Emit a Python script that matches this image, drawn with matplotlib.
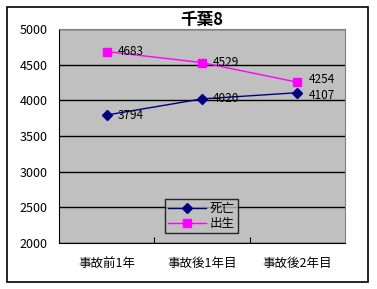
import matplotlib
matplotlib.use("Agg")
import matplotlib.pyplot as plt
from matplotlib.patches import Rectangle

plt.rcParams["font.family"] = ["Noto Sans CJK JP", "DejaVu Sans"]

categories = ["事故前1年", "事故後1年目", "事故後2年目"]
deaths = [3794, 4020, 4107]
births = [4683, 4529, 4254]
title = "千葉8"

W, H = 377, 289
fig = plt.figure(figsize=(W / 100, H / 100), dpi=100)
fig.patches.append(Rectangle((7 / W, 7 / H), 361 / W, 275 / H, transform=fig.transFigure,
                             fill=False, edgecolor="black", linewidth=1.2))

ax = fig.add_axes([59 / W, 1 - 243 / H, 286 / W, 214 / H])
ax.set_facecolor("#C0C0C0")
x = [0, 1, 2]
ax.plot(x, deaths, color="#000080", marker="D", markersize=5, linewidth=1, label="死亡")
ax.plot(x, births, color="#FF00FF", marker="s", markersize=5.5, linewidth=1, label="出生")
# last pair of labels sit close together, nudge them apart a little
for xi, v in zip(x, deaths):
    dy = -2 if xi == 2 else 0
    ax.annotate(str(v), (xi, v), xytext=(8, dy), textcoords="offset points",
                fontsize=8.5, va="center", ha="left")
for xi, v in zip(x, births):
    dy = 2 if xi == 2 else 0
    ax.annotate(str(v), (xi, v), xytext=(8, dy), textcoords="offset points",
                fontsize=8.5, va="center", ha="left")

ax.set_xlim(-0.5, 2.5)
ax.set_ylim(2000, 5000)
ax.set_yticks(range(2000, 5001, 500))
ax.yaxis.grid(True, color="black", linewidth=1)
ax.set_axisbelow(True)
ax.set_xticks([0.5, 1.5])
ax.set_xticklabels([])
ax.set_xticks(x, minor=True)
ax.set_xticklabels(categories, minor=True, fontsize=9)
ax.tick_params(axis="x", which="minor", length=0, pad=10)
ax.tick_params(axis="x", which="major", direction="in", length=4)
ax.tick_params(axis="y", length=0, labelsize=9, pad=8)
for s in ["top", "right"]:
    ax.spines[s].set_color("#808080")
for s in ["left", "bottom"]:
    ax.spines[s].set_color("black")
ax.set_title(title, fontsize=12, fontweight="bold", pad=3)

leg = ax.legend(loc="lower left", bbox_to_anchor=(106 / 286, 10 / 214), borderaxespad=0,
                fontsize=9, frameon=True, fancybox=False, edgecolor="black", facecolor="#C0C0C0",
                handlelength=3, borderpad=0.25, labelspacing=0.15, handletextpad=0.3)
leg.get_frame().set_linewidth(1)

fig.savefig("out.png", dpi=100)
